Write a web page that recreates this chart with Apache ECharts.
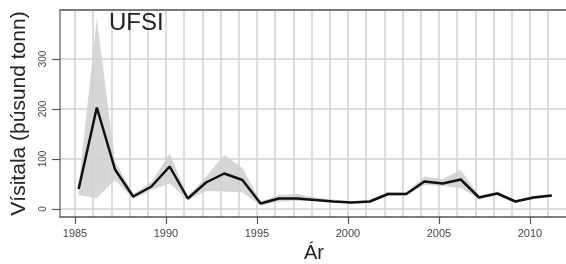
<!DOCTYPE html>
<html><head><meta charset="utf-8">
<script src="https://cdn.jsdelivr.net/npm/echarts@6/dist/echarts.min.js"></script>
<style>html,body{margin:0;padding:0;background:#fff}#c{width:566px;height:264px}</style>
</head><body><div id="c"></div>
<script>
var years = [1985,1986,1987,1988,1989,1990,1991,1992,1993,1994,1995,1996,1997,1998,1999,2000,2001,2002,2003,2004,2005,2006,2007,2008,2009,2010,2011];
var index = [40,203,79,25,45,85,21,53,71,58,11,21,21,18,15,13,15,30,30,55,51,59,23,31,15,23,27];
var lower = [28,22,58,20,38,51,17,36,35,33,7,15,16,16,13,11,12,26,27,48,46,42,20,28,13,20,24];
var upper = [46,381,95,30,54,111,25,65,108,82,15,28,30,23,19,15,18,34,33,65,60,78,27,35,18,26,30];
var xTickLabels = [1985,1990,1995,2000,2005,2010];
var yTickLabels = [0,100,200,300];
var surveyOffset = 0.2;

var xs = years.map(function(y){return y + surveyOffset;});
var pairs = function(arr){return arr.map(function(v,i){return [xs[i], v];});};
var bandData = years.map(function(y,i){return [xs[i], lower[i], upper[i]];});

var chart = echarts.init(document.getElementById('c'), null, {renderer:'canvas'});
var FF = 'Liberation Sans, Arial, sans-serif';
chart.setOption({
  animation:false,
  backgroundColor:'#fff',
  title:{text:'UFSI', left:109, top:11, padding:0,
    textStyle:{fontSize:24, fontWeight:'normal', color:'#222', fontFamily:FF}},
  grid:{left:60, top:10, right:-2, bottom:47, outerBoundsMode:'none', containLabel:false, show:false},
  xAxis:[{
    type:'value', min:1984.176, max:2012.09,
    name:'Ár', nameLocation:'middle', nameGap:23,
    nameTextStyle:{fontSize:20, color:'#222', fontFamily:FF},
    axisLine:{show:true, onZero:false, lineStyle:{color:'#555', width:1.5}},
    axisTick:{show:true, length:7, customValues:xTickLabels, lineStyle:{color:'#555', width:1.2}},
    axisLabel:{customValues:xTickLabels, fontSize:11, color:'#444', margin:11, fontFamily:FF,
      formatter:function(v){return String(Math.round(v));}},
    splitLine:{show:false}
  },{
    type:'value', min:1984.176, max:2012.09, position:'bottom',
    axisLine:{show:false}, axisLabel:{show:false},
    axisTick:{show:false, customValues:years},
    splitLine:{show:true, lineStyle:{color:'#d0d0d0', width:1.5}}
  },{
    type:'value', min:1984.176, max:2012.09, position:'top',
    axisLine:{show:true, onZero:false, lineStyle:{color:'#7a7a7a', width:2}},
    axisLabel:{show:false}, axisTick:{show:false}, splitLine:{show:false}
  }],
  yAxis:{
    type:'value', min:-16, max:398,
    name:'Vísitala (þúsund tonn)', nameLocation:'middle', nameGap:30, nameRotate:90,
    nameTextStyle:{fontSize:21, color:'#222', fontFamily:FF},
    axisLine:{show:true, onZero:false, lineStyle:{color:'#7a7a7a', width:1.5}},
    axisTick:{show:true, length:8, customValues:yTickLabels, lineStyle:{color:'#555', width:1.2}},
    axisLabel:{customValues:yTickLabels, rotate:90, fontSize:10, color:'#444', margin:12, fontFamily:FF,
      formatter:function(v){return String(Math.round(v));}},
    splitLine:{show:true, lineStyle:{color:'#d0d0d0', width:1.5}}
  },
  series:[
    {type:'custom', data:bandData, silent:true, z:-1,
      encode:{x:0, y:[1,2]},
      renderItem:function(params, api){
        if (params.dataIndex !== 0) return null;
        var pts = [];
        for (var i=0;i<bandData.length;i++) pts.push(api.coord([bandData[i][0], bandData[i][2]]));
        for (var j=bandData.length-1;j>=0;j--) pts.push(api.coord([bandData[j][0], bandData[j][1]]));
        return {type:'polygon', shape:{points:pts}, style:{fill:'#d6d6d6', stroke:null}};
      }},
    {type:'line', data:pairs(index), symbol:'none', lineStyle:{color:'#111', width:2.5}, z:3}
  ]
});
</script></body></html>
